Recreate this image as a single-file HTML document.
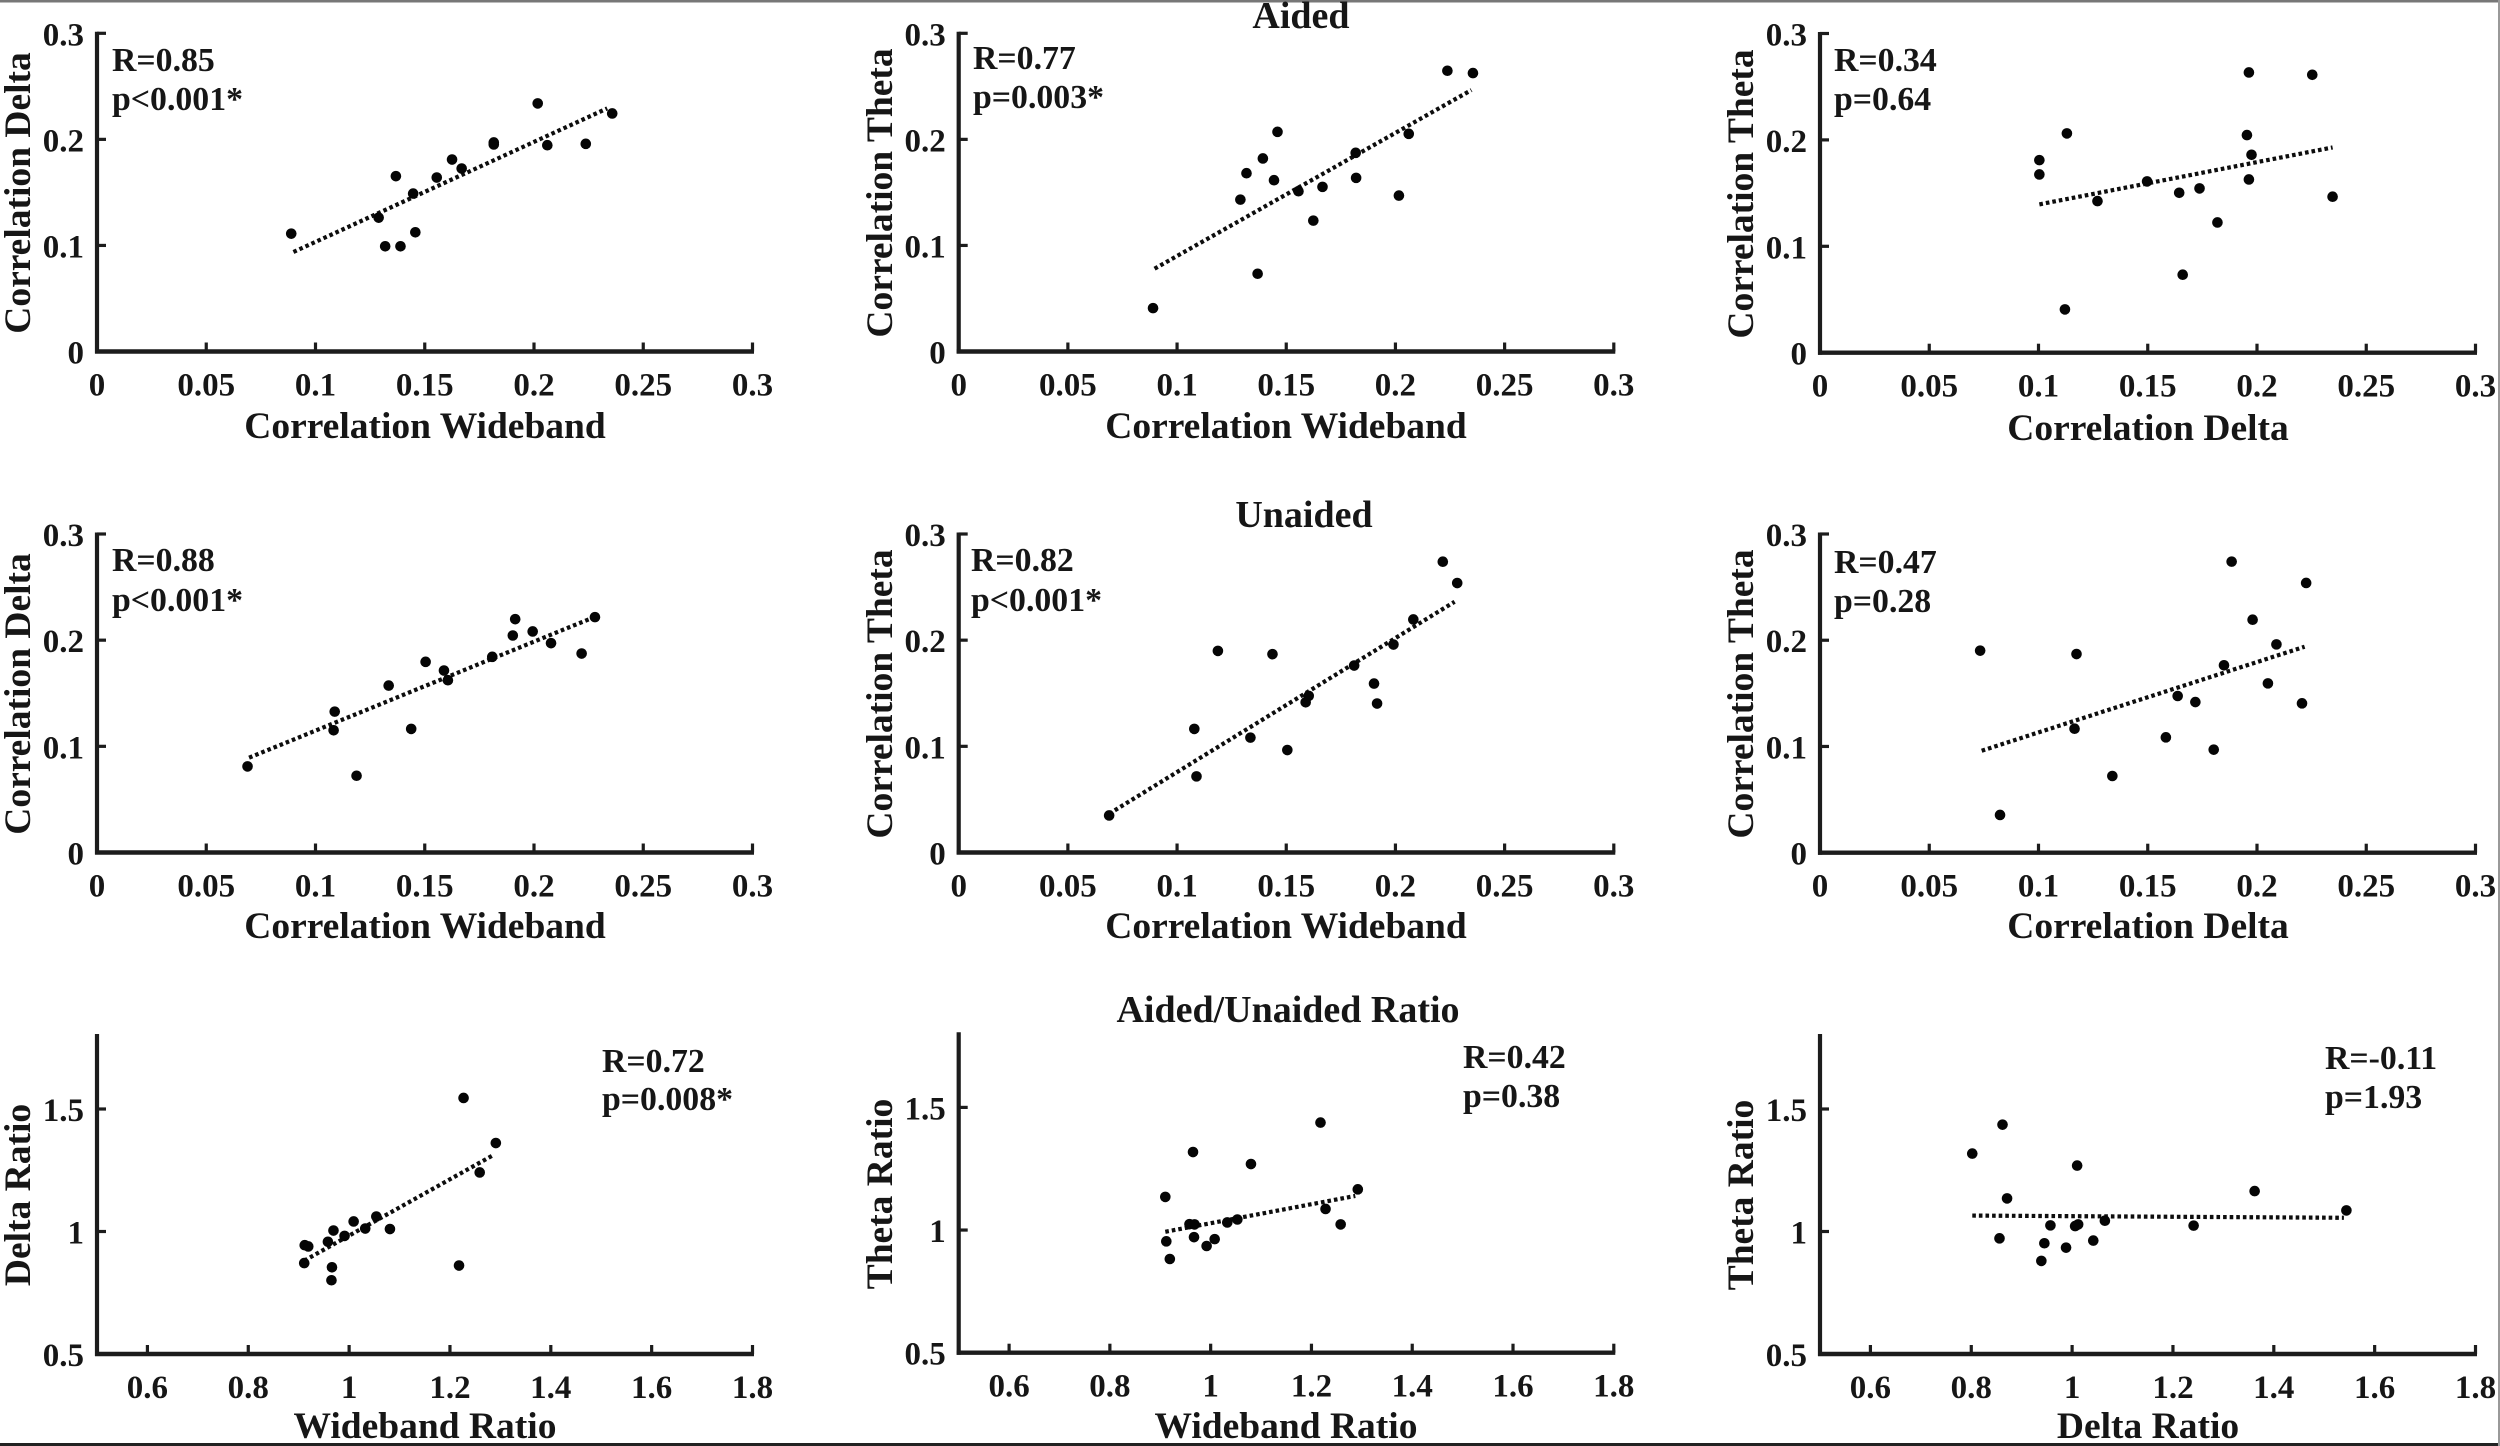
<!DOCTYPE html>
<html lang="en">
<head>
<meta charset="utf-8">
<title>Correlation scatter plots: Aided, Unaided, Aided/Unaided Ratio</title>
<style>
html,body{margin:0;padding:0;background:#fff;}
#figure{display:block;width:2500px;height:1446px;background:#fff;}
text{font-family:"Liberation Serif","DejaVu Serif",serif;font-weight:bold;fill:#161616;}
.tick{font-size:33px;}
.lab{font-size:37.5px;}
.note{font-size:33.8px;}
.head{font-size:38px;text-anchor:middle;}
.xl{text-anchor:middle;}
</style>
</head>
<body>
<svg id="figure" xmlns="http://www.w3.org/2000/svg" width="2500" height="1446" viewBox="0 0 2500 1446">
  <rect x="0" y="0" width="2500" height="2.5" fill="#777"/>
  <rect x="0" y="1443" width="2500" height="3" fill="#222"/>
  <rect x="2498" y="0" width="2" height="1446" fill="#999"/>

  <text class="head" x="1301" y="28">Aided</text>
  <text class="head" x="1304" y="527">Unaided</text>
  <text class="head" x="1288" y="1022">Aided/Unaided Ratio</text>

  <!-- x axis titles -->
  <text class="lab xl" x="425" y="438">Correlation Wideband</text>
  <text class="lab xl" x="1286" y="438">Correlation Wideband</text>
  <text class="lab xl" x="2148" y="440">Correlation Delta</text>
  <text class="lab xl" x="425" y="938">Correlation Wideband</text>
  <text class="lab xl" x="1286" y="938">Correlation Wideband</text>
  <text class="lab xl" x="2148" y="938">Correlation Delta</text>
  <text class="lab xl" x="425" y="1438">Wideband Ratio</text>
  <text class="lab xl" x="1286" y="1438">Wideband Ratio</text>
  <text class="lab xl" x="2148" y="1438">Delta Ratio</text>

  <!-- y axis titles -->
  <text class="lab xl" transform="translate(30,193) rotate(-90)">Correlation Delta</text>
  <text class="lab xl" transform="translate(892,193) rotate(-90)">Correlation Theta</text>
  <text class="lab xl" transform="translate(1753,194) rotate(-90)">Correlation Theta</text>
  <text class="lab xl" transform="translate(30,694) rotate(-90)">Correlation Delta</text>
  <text class="lab xl" transform="translate(892,694) rotate(-90)">Correlation Theta</text>
  <text class="lab xl" transform="translate(1753,694) rotate(-90)">Correlation Theta</text>
  <text class="lab xl" transform="translate(30,1195) rotate(-90)">Delta Ratio</text>
  <text class="lab xl" transform="translate(892,1194) rotate(-90)">Theta Ratio</text>
  <text class="lab xl" transform="translate(1753,1195) rotate(-90)">Theta Ratio</text>

  <!-- statistics annotations -->
  <text class="note" x="112" y="71">R=0.85</text>
  <text class="note" x="112" y="110">p&lt;0.001*</text>
  <text class="note" x="973" y="69">R=0.77</text>
  <text class="note" x="973" y="108">p=0.003*</text>
  <text class="note" x="1834" y="71">R=0.34</text>
  <text class="note" x="1834" y="110">p=0.64</text>
  <text class="note" x="112" y="571">R=0.88</text>
  <text class="note" x="112" y="611">p&lt;0.001*</text>
  <text class="note" x="971" y="571">R=0.82</text>
  <text class="note" x="971" y="611">p&lt;0.001*</text>
  <text class="note" x="1834" y="573">R=0.47</text>
  <text class="note" x="1834" y="612">p=0.28</text>
  <text class="note" x="602" y="1072">R=0.72</text>
  <text class="note" x="602" y="1110">p=0.008*</text>
  <text class="note" x="1463" y="1068">R=0.42</text>
  <text class="note" x="1463" y="1107">p=0.38</text>
  <text class="note" x="2325" y="1069">R=-0.11</text>
  <text class="note" x="2325" y="1108">p=1.93</text>
</svg>

<script>
// Tick labels
const corrXTicks = ["0", "0.05", "0.1", "0.15", "0.2", "0.25", "0.3"];
const corrYTicks = ["0", "0.1", "0.2", "0.3"];
const ratioXTicks = ["0.6", "0.8", "1", "1.2", "1.4", "1.6", "1.8"];
const ratioYTicks = ["0.5", "1", "1.5"];

// Aided: wideband vs delta
const aidedDeltaX = [0.0889,0.1289,0.1319,0.1389,0.1457,0.1368,0.1447,0.1555,0.1625,0.1669,0.1816,0.1816,0.2017,0.2061,0.2237,0.2358];
const aidedDeltaY = [0.1111,0.1262,0.0992,0.0992,0.1124,0.1653,0.1489,0.1640,0.1810,0.1725,0.1971,0.1952,0.2339,0.1945,0.1958,0.2244];
const aidedDeltaFitX = [0.0899,0.2335];
const aidedDeltaFitY = [0.0938,0.2292];

// Aided: wideband vs theta
const aidedThetaX = [0.0890,0.1290,0.1318,0.1369,0.1393,0.1444,0.1460,0.1556,0.1624,0.1666,0.1818,0.1820,0.2016,0.2061,0.2238,0.2355];
const aidedThetaY = [0.0409,0.1432,0.1681,0.0733,0.1820,0.1615,0.2071,0.1511,0.1234,0.1552,0.1873,0.1637,0.1470,0.2052,0.2647,0.2625];
const aidedThetaFitX = [0.0897,0.2348];
const aidedThetaFitY = [0.0781,0.2465];

// Aided: delta vs theta
const aidedDeltaThetaX = [0.1004,0.1004,0.1121,0.1130,0.1270,0.1497,0.1644,0.1660,0.1737,0.1819,0.1954,0.1963,0.1963,0.1975,0.2253,0.2346];
const aidedDeltaThetaY = [0.1810,0.1675,0.0407,0.2061,0.1425,0.1610,0.1503,0.0733,0.1544,0.1224,0.2045,0.2634,0.1628,0.1860,0.2612,0.1466];
const aidedDeltaThetaFitX = [0.1004,0.2346];
const aidedDeltaThetaFitY = [0.1394,0.1929];

// Unaided: wideband vs delta
const unaidedDeltaX = [0.0689,0.1083,0.1088,0.1188,0.1335,0.1438,0.1504,0.1588,0.1606,0.1809,0.1903,0.1914,0.1994,0.2078,0.2218,0.2279];
const unaidedDeltaY = [0.0811,0.1151,0.1327,0.0723,0.1572,0.1164,0.1796,0.1714,0.1623,0.1843,0.2044,0.2198,0.2082,0.1972,0.1874,0.2217];
const unaidedDeltaFitX = [0.0696,0.2279];
const unaidedDeltaFitY = [0.0893,0.2220];

// Unaided: wideband vs theta
const unaidedThetaX = [0.0689,0.1079,0.1089,0.1187,0.1336,0.1437,0.1505,0.1589,0.1603,0.1811,0.1902,0.1916,0.1991,0.2082,0.2217,0.2283];
const unaidedThetaY = [0.0349,0.1164,0.0717,0.1899,0.1082,0.1868,0.0965,0.1415,0.1475,0.1761,0.1591,0.1403,0.1959,0.2195,0.2739,0.2538];
const unaidedThetaFitX = [0.0689,0.2271];
const unaidedThetaFitY = [0.0365,0.2362];

// Unaided: delta vs theta
const unaidedDeltaThetaX = [0.0733,0.0824,0.1165,0.1174,0.1338,0.1583,0.1637,0.1718,0.1802,0.1849,0.1884,0.1980,0.2050,0.2089,0.2206,0.2225];
const unaidedDeltaThetaY = [0.1902,0.0355,0.1167,0.1870,0.0722,0.1086,0.1475,0.1418,0.0970,0.1764,0.2740,0.2193,0.1594,0.1961,0.1406,0.2539];
const unaidedDeltaThetaFitX = [0.0740,0.2218];
const unaidedDeltaThetaFitY = [0.0960,0.1939];

// Ratio: wideband vs delta
const ratioDeltaX = [0.911,0.912,0.919,0.958,0.966,0.965,0.969,0.991,1.009,1.032,1.054,1.081,1.218,1.227,1.259,1.291];
const ratioDeltaY = [0.871,0.944,0.939,0.958,0.854,0.801,1.004,0.982,1.041,1.012,1.061,1.010,0.861,1.545,1.241,1.361];
const ratioDeltaFitX = [0.911,1.287];
const ratioDeltaFitY = [0.881,1.313];

// Ratio: wideband vs theta
const ratioThetaX = [0.910,0.912,0.919,0.958,0.965,0.968,0.967,0.992,1.008,1.033,1.053,1.080,1.218,1.228,1.258,1.292];
const ratioThetaY = [1.135,0.954,0.882,1.024,1.318,1.023,0.971,0.935,0.963,1.031,1.043,1.269,1.438,1.086,1.023,1.166];
const ratioThetaFitX = [0.910,1.287];
const ratioThetaFitY = [0.993,1.139];

// Ratio: delta vs theta
const ratioDeltaThetaX = [0.802,0.856,0.862,0.871,0.939,0.945,0.957,0.988,1.006,1.012,1.010,1.042,1.065,1.241,1.362,1.544];
const ratioDeltaThetaY = [1.318,0.972,1.436,1.135,0.880,0.952,1.025,0.934,1.022,1.029,1.269,0.963,1.044,1.024,1.165,1.086];
const ratioDeltaThetaFitX = [0.802,1.539];
const ratioDeltaThetaFitY = [1.065,1.056];

const SVG_NS = "http://www.w3.org/2000/svg";
const figure = document.getElementById("figure");

function svgEl(tag, attrs, parent) {
  const el = document.createElementNS(SVG_NS, tag);
  for (const k in attrs) el.setAttribute(k, attrs[k]);
  parent.appendChild(el);
  return el;
}

function drawPanel(p) {
  const xScale = v => p.left + (v - p.xDomain[0]) / (p.xDomain[1] - p.xDomain[0]) * (p.right - p.left);
  const yScale = v => p.bottom - (v - p.yDomain[0]) / (p.yDomain[1] - p.yDomain[0]) * (p.bottom - p.top);

  const g = svgEl("g", {}, figure);
  
  

  const xAxis = svgEl("line", {x1: p.left - 2, x2: p.right + 1.5, y1: p.bottom, y2: p.bottom, stroke: "#1c1c1c", "stroke-width": 4.4}, g);
  
  

  const yAxis = svgEl("line", {x1: p.left, x2: p.left, y1: p.bottom + 2, y2: p.top - 1.5, stroke: "#1c1c1c", "stroke-width": 4.2}, g);
  
  

  p.xTicks.forEach(label => {
    const x = xScale(parseFloat(label));
    const tick = svgEl("line", {x1: x, x2: x, y1: p.bottom, y2: p.bottom - 9, stroke: "#1c1c1c", "stroke-width": 3.2}, g);
    
    
    const text = svgEl("text", {x: x, y: p.bottom + 44, "text-anchor": "middle", "class": "tick"}, g);
    text.textContent = label;
    
    
  });

  p.yTicks.forEach(label => {
    const y = yScale(parseFloat(label));
    const tick = svgEl("line", {x1: p.left, x2: p.left + 9, y1: y, y2: y, stroke: "#1c1c1c", "stroke-width": 3.2}, g);
    
    
    const text = svgEl("text", {x: p.left - 13, y: y + 12, "text-anchor": "end", "class": "tick"}, g);
    text.textContent = label;
    
    
  });

  const fit = svgEl("line", {
    x1: xScale(p.fitX[0]), y1: yScale(p.fitY[0]),
    x2: xScale(p.fitX[1]), y2: yScale(p.fitY[1]),
    stroke: "#0d0d0d", "stroke-width": 4.2, "stroke-dasharray": "3.6 3.0"
  }, g);
  
  

  p.x.forEach((v, i) => {
    const dot = svgEl("circle", {cx: xScale(v), cy: yScale(p.y[i]), r: 5.3, fill: "#050505"}, g);
    
    
  });
}

const corrX = [0, 0.3], corrY = [0, 0.3], ratioX = [0.5, 1.8], ratioY = [0.5, 1.8];

drawPanel({name:"aided-wideband-delta", left:97, right:752.5, top:33.3, bottom:351.5, xDomain:corrX, yDomain:corrY, xTicks:corrXTicks, yTicks:corrYTicks, x:aidedDeltaX, y:aidedDeltaY, fitX:aidedDeltaFitX, fitY:aidedDeltaFitY});
drawPanel({name:"aided-wideband-theta", left:958.7, right:1613.8, top:33.3, bottom:351.5, xDomain:corrX, yDomain:corrY, xTicks:corrXTicks, yTicks:corrYTicks, x:aidedThetaX, y:aidedThetaY, fitX:aidedThetaFitX, fitY:aidedThetaFitY});
drawPanel({name:"aided-delta-theta", left:1820, right:2475.5, top:33.5, bottom:352.7, xDomain:corrX, yDomain:corrY, xTicks:corrXTicks, yTicks:corrYTicks, x:aidedDeltaThetaX, y:aidedDeltaThetaY, fitX:aidedDeltaThetaFitX, fitY:aidedDeltaThetaFitY});

drawPanel({name:"unaided-wideband-delta", left:97, right:752.5, top:534, bottom:852.5, xDomain:corrX, yDomain:corrY, xTicks:corrXTicks, yTicks:corrYTicks, x:unaidedDeltaX, y:unaidedDeltaY, fitX:unaidedDeltaFitX, fitY:unaidedDeltaFitY});
drawPanel({name:"unaided-wideband-theta", left:958.7, right:1613.8, top:534, bottom:852.5, xDomain:corrX, yDomain:corrY, xTicks:corrXTicks, yTicks:corrYTicks, x:unaidedThetaX, y:unaidedThetaY, fitX:unaidedThetaFitX, fitY:unaidedThetaFitY});
drawPanel({name:"unaided-delta-theta", left:1820, right:2475.5, top:534, bottom:852.7, xDomain:corrX, yDomain:corrY, xTicks:corrXTicks, yTicks:corrYTicks, x:unaidedDeltaThetaX, y:unaidedDeltaThetaY, fitX:unaidedDeltaThetaFitX, fitY:unaidedDeltaThetaFitY});

drawPanel({name:"ratio-wideband-delta", left:97, right:752.5, top:1035.5, bottom:1354, xDomain:ratioX, yDomain:ratioY, xTicks:ratioXTicks, yTicks:ratioYTicks, x:ratioDeltaX, y:ratioDeltaY, fitX:ratioDeltaFitX, fitY:ratioDeltaFitY});
drawPanel({name:"ratio-wideband-theta", left:958.7, right:1613.8, top:1033.8, bottom:1352.7, xDomain:ratioX, yDomain:ratioY, xTicks:ratioXTicks, yTicks:ratioYTicks, x:ratioThetaX, y:ratioThetaY, fitX:ratioThetaFitX, fitY:ratioThetaFitY});
drawPanel({name:"ratio-delta-theta", left:1820, right:2475.5, top:1035.5, bottom:1354, xDomain:ratioX, yDomain:ratioY, xTicks:ratioXTicks, yTicks:ratioYTicks, x:ratioDeltaThetaX, y:ratioDeltaThetaY, fitX:ratioDeltaThetaFitX, fitY:ratioDeltaThetaFitY});
</script>
</body>
</html>
